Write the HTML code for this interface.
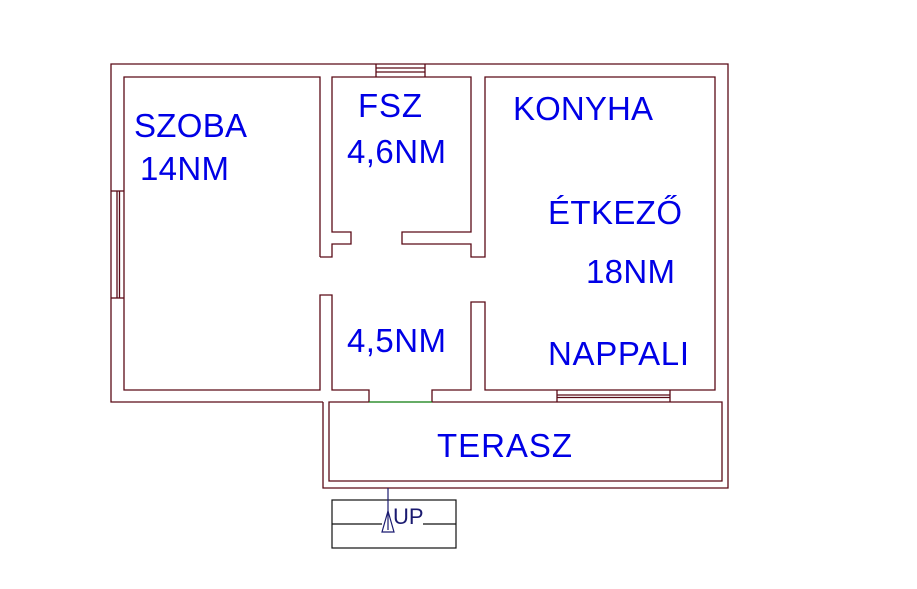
<!DOCTYPE html>
<html><head><meta charset="utf-8"><style>
html,body{margin:0;padding:0;background:#fff;}
svg{display:block;}
text{font-family:"Liberation Sans",Arial,sans-serif;fill:#0000e6;font-size:33px;}
</style></head><body>
<svg width="917" height="589" viewBox="0 0 917 589" xmlns="http://www.w3.org/2000/svg">
<g fill="none" stroke="#5a0a16" stroke-width="1.3">
<polyline points="323,402 111,402 111,64 728,64 728,488 323,488 323,402"/>
<polyline points="369,402 329,402 329,481 722,481 722,402 432,402"/>
<polyline points="320,257 320,77 124,77 124,390 320,390 320,295 332,295 332,390 369,390 369,402"/>
<polyline points="320,257 332,257 332,244 351,244 351,232 332,232 332,77 471,77 471,232 402,232 402,244 471,244 471,257 485,257 485,77 715,77 715,390 485,390 485,302 471,302 471,390 432,390 432,402"/>
<line x1="117" y1="191" x2="117" y2="298"/>
<line x1="119.5" y1="191" x2="119.5" y2="298"/>
<line x1="111" y1="191" x2="124" y2="191"/>
<line x1="111" y1="298" x2="124" y2="298"/>
<line x1="376" y1="68" x2="425" y2="68"/>
<line x1="376" y1="72" x2="425" y2="72"/>
<line x1="376" y1="64" x2="376" y2="77"/>
<line x1="425" y1="64" x2="425" y2="77"/>
<line x1="557" y1="395" x2="670" y2="395"/>
<line x1="557" y1="397.5" x2="670" y2="397.5"/>
<line x1="557" y1="390" x2="557" y2="402"/>
<line x1="670" y1="390" x2="670" y2="402"/>
</g>
<line x1="369" y1="402" x2="432" y2="402" stroke="#0a7a0a" stroke-width="1.3"/>
<g fill="none" stroke="#111" stroke-width="1.2">
<rect x="332" y="500" width="124" height="48"/>
<line x1="332" y1="524" x2="382" y2="524"/>
<line x1="423" y1="524" x2="456" y2="524"/>
<polygon points="388,511 382,532 394,532" stroke="#1a1a70"/>
</g>
<line x1="388" y1="488" x2="388" y2="530" stroke="#1a1a70" stroke-width="1.2"/>
<text x="393" y="524" style="fill:#1a1a70;font-size:22px">UP</text>
<text x="134" y="137" textLength="113">SZOBA</text>
<text x="140" y="180" textLength="89">14NM</text>
<text x="358" y="117" textLength="64">FSZ</text>
<text x="347" y="163" textLength="99">4,6NM</text>
<text x="347" y="352" textLength="99">4,5NM</text>
<text x="513" y="120" textLength="140">KONYHA</text>
<text x="548" y="224" textLength="134">ÉTKEZŐ</text>
<text x="586" y="283" textLength="89">18NM</text>
<text x="548" y="365" textLength="141">NAPPALI</text>
<text x="437" y="457" textLength="135">TERASZ</text>
</svg>
</body></html>
